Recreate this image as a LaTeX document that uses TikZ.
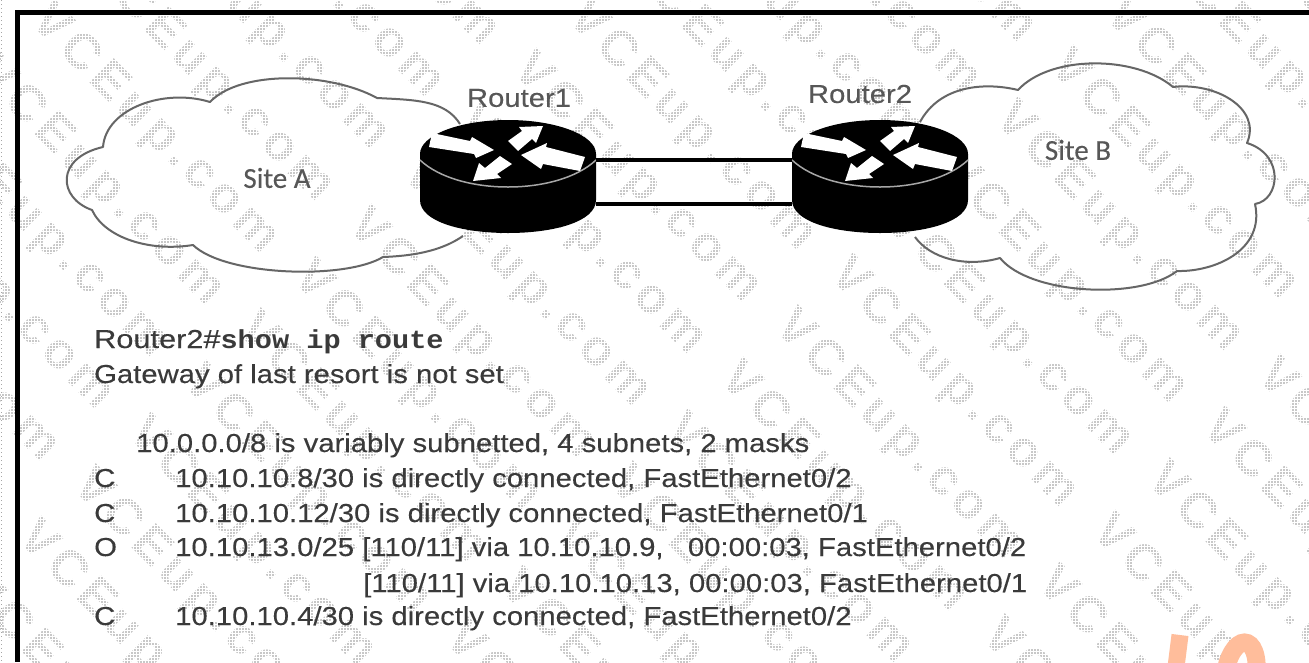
\documentclass[tikz,border=0pt]{standalone}
\usepackage{fontspec}
\setmainfont{Liberation Sans}
\newfontfamily\lab[FakeStretch=1.125,FakeBold=0.2]{Liberation Sans}
\newfontfamily\cmd[FakeStretch=1.1]{Liberation Mono}
\newfontfamily\sitef[FakeBold=0.2]{Carlito}
\newfontfamily\wm[LetterSpace=12]{Liberation Sans}
\usetikzlibrary{patterns}
\pgfdeclarepatternformonly{whitegrid}{\pgfqpoint{-1pt}{-1pt}}{\pgfqpoint{4pt}{4pt}}{\pgfqpoint{3pt}{3pt}}{%
  \pgfsetlinewidth{1.5pt}%
  \pgfpathmoveto{\pgfqpoint{-1pt}{1.5pt}}\pgfpathlineto{\pgfqpoint{4pt}{1.5pt}}%
  \pgfpathmoveto{\pgfqpoint{1.5pt}{-1pt}}\pgfpathlineto{\pgfqpoint{1.5pt}{4pt}}%
  \pgfusepath{stroke}}
\definecolor{wmgray}{HTML}{C8C8C8}
\definecolor{txtgray}{HTML}{3A3A3A}
\definecolor{cloudline}{HTML}{666666}
\definecolor{orangelogo}{HTML}{FFBD9B}
\tikzset{
  wmark/.style={rotate=-45,text=wmgray,font=\wm\bfseries\fontsize{50}{50}\selectfont,inner sep=0pt},
  lineT/.style={anchor=base west,inner sep=0pt,text=txtgray,font=\lab\fontsize{26}{26}\selectfont},
  rlabel/.style={anchor=center,inner sep=0pt,text=txtgray!85,font=\lab\fontsize{26}{26}\selectfont},
  sitelabel/.style={anchor=center,inner sep=0pt,text=txtgray!85,font=\sitef\fontsize{29}{29}\selectfont},
  cloudstroke/.style={draw=cloudline,line width=2pt,line join=round},
  wire/.style={draw=black,line width=3.2pt},
  rbox/.style={minimum width=175pt,minimum height=112pt,inner sep=0pt},
  rarrow/.style={fill=white,draw=none},
}
\newcommand{\routershape}[1]{%
  \begin{scope}[shift={(#1,0)}]
    \fill[black] (-88,154) -- (-88,200) .. controls (-88,222) and (-45,233) .. (0,233) .. controls (45,233) and (88,222) .. (88,200) -- (88,154) -- cycle;
    \fill[black] (0,154) ellipse[x radius=88,y radius=34];
    \draw[gray!70,line width=1.5pt] (-88,160) .. controls (-50,196) and (50,196) .. (88,160);
    \fill[rarrow] (-76,133) -- (-38,141) -- (-36,137) -- (-14,150) -- (-32,158) -- (-34,154) -- (-79,147) -- cycle;
    \fill[rarrow] (0,141) -- (14,131) -- (11,127) -- (35,126) -- (28,143) -- (24,139) -- (10,151) -- cycle;
    \fill[rarrow] (77,157) -- (38,147) -- (39,143) -- (13,155) -- (33,169) -- (35,164) -- (72,171) -- cycle;
    \fill[rarrow] (-8,156) -- (4,164) -- (-11,174) -- (-7,178) -- (-35,181) -- (-29,163) -- (-23,168) -- cycle;
  \end{scope}}
\begin{document}
\begin{tikzpicture}[x=1pt,y=-1pt]
\useasboundingbox (0,0) rectangle (1309,662);
\clip (0,0) rectangle (1309,662);
\fill[white] (0,0) rectangle (1309,662);
% watermark
\foreach \j in {-14,...,16}{
  \foreach \i in {-4,...,3}{
    \pgfmathsetmacro{\xx}{837+\j*55+\i*262}
    \pgfmathsetmacro{\yy}{268-\j*52+\i*257}
    \pgfmathtruncatemacro{\keep}{and(and(\xx>-320,\xx<1320),and(\yy>-320,\yy<672))}
    \ifnum\keep=1
      \node[wmark,anchor=west] at (\xx,\yy) {VCEup.com};
    \fi
  }
}
\fill[pattern=whitegrid,pattern color=white] (0,0) rectangle (1309,662);
\draw[gray!70,line width=1.2pt,dash pattern=on 1.2pt off 2.8pt] (1.5,0) -- (1.5,662);
% orange logo fragment
\draw[orangelogo,line width=17pt] (1180,635) -- (1175,675);
\draw[orangelogo,line width=18pt] (1224,680) .. controls (1230,630) and (1262,630) .. (1256,680);
% frame
\draw[black,line width=5pt] (1309,12) -- (17,12) -- (17,662);
% clouds
\draw[cloudstroke] (460,124) .. controls (445,100) and (415,100) .. (377,98)
  .. controls (330,72) and (240,70) .. (210,102)
  .. controls (165,88) and (106,108) .. (103,147)
  .. controls (55,158) and (58,198) .. (92,210)
  .. controls (105,238) and (150,252) .. (193,245)
  .. controls (225,276) and (345,280) .. (383,257)
  .. controls (410,256) and (440,252) .. (463,236);
\draw[cloudstroke] (920,122) .. controls (940,85) and (985,82) .. (1018,90)
  .. controls (1050,55) and (1135,55) .. (1173,87)
  .. controls (1215,82) and (1262,108) .. (1247,143)
  .. controls (1285,155) and (1280,200) .. (1255,204)
  .. controls (1265,250) and (1215,272) .. (1177,271)
  .. controls (1140,300) and (1030,295) .. (1000,258)
  .. controls (965,268) and (930,258) .. (915,237);
% routers
\routershape{508}
\routershape{880}
\node[rbox] (R1) at (508,178) {};
\node[rbox] (R2) at (880,178) {};
\draw[wire] ([yshift=18pt]R1.east) -- ([yshift=18pt]R2.west);
\draw[wire] ([yshift=-26pt]R1.east) -- ([yshift=-26pt]R2.west);
% labels
\node[rlabel] (l1) at (519,98) {Router1};
\node[rlabel] (l2) at (860,94) {Router2};
\node[sitelabel] (sa) at (277,178) {Site A};
\node[sitelabel] (sb) at (1078,150) {Site B};
% console
\node[lineT] (t1) at (94,348) {\scalebox{1.05}[1]{Router2\#}{\cmd\bfseries show ip route}};
\node[lineT] (t2) at (94,383) {Gateway of last resort is not set};
\node[lineT] (t3) at (136,452) {10.0.0.0/8 is variably subnetted, 4 subnets, 2 masks};
\node[lineT] (c1) at (94,487) {C};
\node[lineT] (t4) at (175,487) {10.10.10.8/30 is directly connected, FastEthernet0/2};
\node[lineT] (c2) at (94,522) {C};
\node[lineT] (t5) at (175,522) {10.10.10.12/30 is directly connected, FastEthernet0/1};
\node[lineT] (c3) at (94,556) {O};
\node[lineT] (t6) at (175,556) {10.10.13.0/25 [110/11] via 10.10.10.9,\ \ \ 00:00:03, FastEthernet0/2};
\node[lineT] (t7) at (363,592) {[110/11] via 10.10.10.13, 00:00:03, FastEthernet0/1};
\node[lineT] (c4) at (94,625) {C};
\node[lineT] (t8) at (175,625) {10.10.10.4/30 is directly connected, FastEthernet0/2};
\end{tikzpicture}
\end{document}
